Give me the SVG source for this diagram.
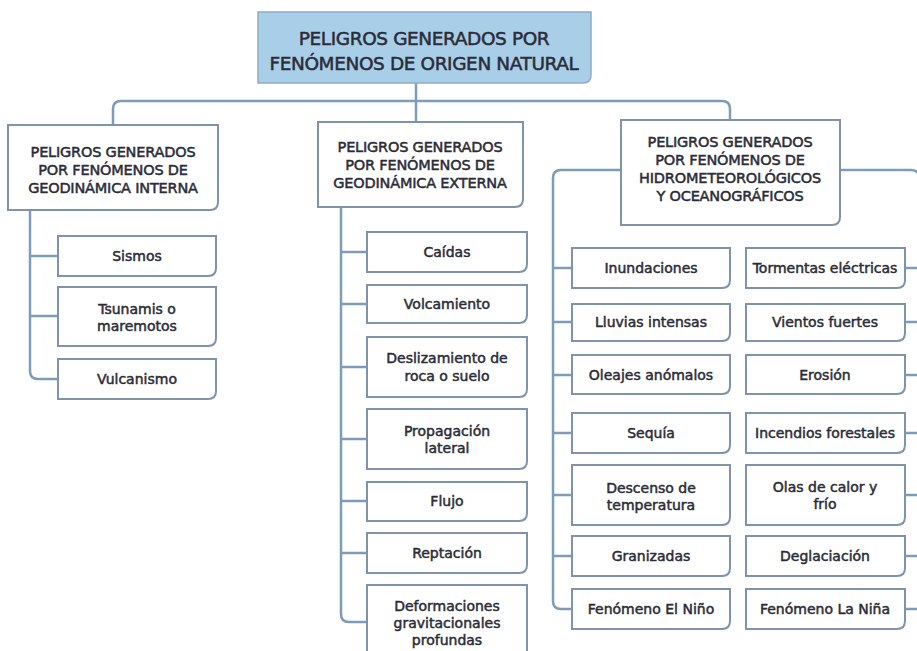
<svg xmlns="http://www.w3.org/2000/svg" width="917" height="651" viewBox="0 0 917 651">
<style>
.bg{fill:#ffffff}
.box{fill:#ffffff;stroke:#7f93ab;stroke-width:2}
.hdr{fill:#a9cfe8;stroke:#8fabc4;stroke-width:1.5}
.conn{fill:none;stroke:#7e9cba;stroke-width:2.5}
.t{font-family:"DejaVu Sans","Liberation Sans",sans-serif;fill:#2b2c38;stroke:#2b2c38;stroke-width:0.5;text-anchor:middle}
.title{font-size:18.5px;letter-spacing:-0.4px}
.cat{font-size:14.5px;letter-spacing:-0.2px}
.item{font-size:14px}
</style>
<rect class="bg" x="0" y="0" width="917" height="651"/>

<g id="connectors">
<path class="conn" d="M416 83 V101"/>
<path class="conn" d="M113 125 V109 Q113 101 121 101 H722 Q730 101 730 109 V120"/>
<path class="conn" d="M416 101 V122"/>
<path class="conn" d="M30 210 V371 Q30 379 38 379 H58"/>
<path class="conn" d="M30 256 H58"/>
<path class="conn" d="M30 316 H58"/>
<path class="conn" d="M341 207 V614 Q341 622 349 622 H367"/>
<path class="conn" d="M341 252 H367"/>
<path class="conn" d="M341 304 H367"/>
<path class="conn" d="M341 367 H367"/>
<path class="conn" d="M341 439 H367"/>
<path class="conn" d="M341 501 H367"/>
<path class="conn" d="M341 553 H367"/>
<path class="conn" d="M621 170 H561 Q553 170 553 178 V601 Q553 609 561 609 H572"/>
<path class="conn" d="M553 268 H572"/>
<path class="conn" d="M553 322 H572"/>
<path class="conn" d="M553 375 H572"/>
<path class="conn" d="M553 433 H572"/>
<path class="conn" d="M553 495 H572"/>
<path class="conn" d="M553 556 H572"/>
<path class="conn" d="M840 170 H911 Q919 170 919 178 V609"/>
<path class="conn" d="M905 268 H919"/>
<path class="conn" d="M905 322 H919"/>
<path class="conn" d="M905 375 H919"/>
<path class="conn" d="M905 433 H919"/>
<path class="conn" d="M905 495 H919"/>
<path class="conn" d="M905 556 H919"/>
<path class="conn" d="M905 609 H919"/>
</g>

<g id="root">
<path class="hdr" d="M258 12 H591 V75 Q591 83 583 83 H258 Z"/>
<text class="t title" x="424" y="45">PELIGROS GENERADOS POR</text>
<text class="t title" x="424" y="70">FENÓMENOS DE ORIGEN NATURAL</text>
</g>

<g id="interna">
<path class="box" d="M8 125 H218 V202 Q218 210 210 210 H8 Z"/>
<text class="t cat" x="113" y="157">PELIGROS GENERADOS</text>
<text class="t cat" x="113" y="175">POR FENÓMENOS DE</text>
<text class="t cat" x="113" y="193">GEODINÁMICA INTERNA</text>
</g>
<g id="sismos">
<path class="box" d="M58 236 H216 V268 Q216 276 208 276 H58 Z"/>
<text class="t item" x="137" y="261">Sismos</text>
</g>
<g id="tsunamis">
<path class="box" d="M58 287 H216 V338 Q216 346 208 346 H58 Z"/>
<text class="t item" x="137" y="314">Tsunamis o</text>
<text class="t item" x="137" y="331">maremotos</text>
</g>
<g id="vulcanismo">
<path class="box" d="M58 359 H216 V391 Q216 399 208 399 H58 Z"/>
<text class="t item" x="137" y="384">Vulcanismo</text>
</g>

<g id="externa">
<path class="box" d="M318 122 H523 V199 Q523 207 515 207 H318 Z"/>
<text class="t cat" x="420" y="152">PELIGROS GENERADOS</text>
<text class="t cat" x="420" y="170">POR FENÓMENOS DE</text>
<text class="t cat" x="420" y="188">GEODINÁMICA EXTERNA</text>
</g>
<g id="caidas">
<path class="box" d="M367 232 H527 V264 Q527 272 519 272 H367 Z"/>
<text class="t item" x="447" y="257">Caídas</text>
</g>
<g id="volcamiento">
<path class="box" d="M367 285 H527 V315 Q527 323 519 323 H367 Z"/>
<text class="t item" x="447" y="309">Volcamiento</text>
</g>
<g id="deslizamiento">
<path class="box" d="M367 337 H527 V389 Q527 397 519 397 H367 Z"/>
<text class="t item" x="447" y="363">Deslizamiento de</text>
<text class="t item" x="447" y="381">roca o suelo</text>
</g>
<g id="propagacion">
<path class="box" d="M367 409 H527 V461 Q527 469 519 469 H367 Z"/>
<text class="t item" x="447" y="436">Propagación</text>
<text class="t item" x="447" y="453">lateral</text>
</g>
<g id="flujo">
<path class="box" d="M367 482 H527 V513 Q527 521 519 521 H367 Z"/>
<text class="t item" x="447" y="506">Flujo</text>
</g>
<g id="reptacion">
<path class="box" d="M367 533 H527 V565 Q527 573 519 573 H367 Z"/>
<text class="t item" x="447" y="558">Reptación</text>
</g>
<g id="deformaciones">
<path class="box" d="M367 585 H527 V652 Q527 660 519 660 H367 Z"/>
<text class="t item" x="447" y="611">Deformaciones</text>
<text class="t item" x="447" y="628">gravitacionales</text>
<text class="t item" x="447" y="645">profundas</text>
</g>

<g id="hidro">
<path class="box" d="M621 120 H840 V217 Q840 225 832 225 H621 Z"/>
<text class="t cat" x="730" y="147">PELIGROS GENERADOS</text>
<text class="t cat" x="730" y="165">POR FENÓMENOS DE</text>
<text class="t cat" x="730" y="183">HIDROMETEOROLÓGICOS</text>
<text class="t cat" x="730" y="201">Y OCEANOGRÁFICOS</text>
</g>

<g id="inundaciones">
<path class="box" d="M572 248 H730 V280 Q730 288 722 288 H572 Z"/>
<text class="t item" x="651" y="273">Inundaciones</text>
</g>
<g id="lluvias">
<path class="box" d="M572 304 H730 V333 Q730 341 722 341 H572 Z"/>
<text class="t item" x="651" y="327">Lluvias intensas</text>
</g>
<g id="oleajes">
<path class="box" d="M572 355 H730 V386 Q730 394 722 394 H572 Z"/>
<text class="t item" x="651" y="380">Oleajes anómalos</text>
</g>
<g id="sequia">
<path class="box" d="M572 413 H730 V445 Q730 453 722 453 H572 Z"/>
<text class="t item" x="651" y="438">Sequía</text>
</g>
<g id="descenso">
<path class="box" d="M572 465 H730 V517 Q730 525 722 525 H572 Z"/>
<text class="t item" x="651" y="493">Descenso de</text>
<text class="t item" x="651" y="510">temperatura</text>
</g>
<g id="granizadas">
<path class="box" d="M572 536 H730 V568 Q730 576 722 576 H572 Z"/>
<text class="t item" x="651" y="561">Granizadas</text>
</g>
<g id="elnino">
<path class="box" d="M572 589 H730 V621 Q730 629 722 629 H572 Z"/>
<text class="t item" x="651" y="614">Fenómeno El Niño</text>
</g>

<g id="tormentas">
<path class="box" d="M746 248 H905 V280 Q905 288 897 288 H746 Z"/>
<text class="t item" x="825" y="273">Tormentas eléctricas</text>
</g>
<g id="vientos">
<path class="box" d="M746 304 H905 V333 Q905 341 897 341 H746 Z"/>
<text class="t item" x="825" y="327">Vientos fuertes</text>
</g>
<g id="erosion">
<path class="box" d="M746 355 H905 V386 Q905 394 897 394 H746 Z"/>
<text class="t item" x="825" y="380">Erosión</text>
</g>
<g id="incendios">
<path class="box" d="M746 413 H905 V445 Q905 453 897 453 H746 Z"/>
<text class="t item" x="825" y="438">Incendios forestales</text>
</g>
<g id="olas">
<path class="box" d="M746 465 H905 V517 Q905 525 897 525 H746 Z"/>
<text class="t item" x="825" y="492">Olas de calor y</text>
<text class="t item" x="825" y="509">frío</text>
</g>
<g id="deglaciacion">
<path class="box" d="M746 536 H905 V568 Q905 576 897 576 H746 Z"/>
<text class="t item" x="825" y="561">Deglaciación</text>
</g>
<g id="lanina">
<path class="box" d="M746 589 H905 V621 Q905 629 897 629 H746 Z"/>
<text class="t item" x="825" y="614">Fenómeno La Niña</text>
</g>
</svg>
